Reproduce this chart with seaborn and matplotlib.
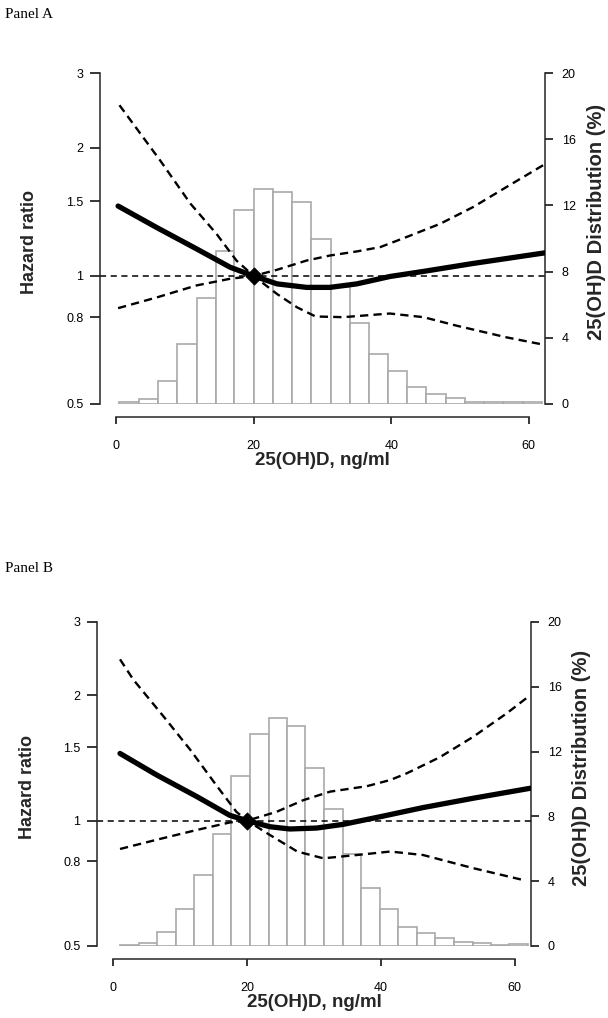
import numpy as np
import matplotlib
matplotlib.use("Agg")
import matplotlib.pyplot as plt
from matplotlib.ticker import FixedLocator, FixedFormatter, NullLocator
import seaborn as sns

sns.set_theme(style="ticks")
plt.rcParams["font.family"] = ["Liberation Sans", "DejaVu Sans"]

# --- shared axis settings ---
HR_TICKS = [0.5, 0.8, 1, 1.5, 2, 3]
HR_TICK_LABELS = ["0.5", "0.8", "1", "1.5", "2", "3"]
PCT_TICKS = [0, 4, 8, 12, 16, 20]
X_TICKS = [0, 20, 40, 60]
REF_X = 20.0
REF_HR = 1.0

# --- Panel A ---
BIN_EDGES_A = [0.5, 3.3, 6.1, 8.9, 11.7, 14.5, 17.2, 20.0, 22.8, 25.6, 28.4, 31.2,
               34.0, 36.8, 39.5, 42.3, 45.1, 47.9, 50.7, 53.5, 56.3, 59.1, 61.9]
PCT_A = [0.1, 0.32, 1.37, 3.65, 6.42, 9.25, 11.7, 12.97, 12.79, 12.2, 10.0,
         7.07, 4.9, 3.05, 2.0, 1.0, 0.62, 0.36, 0.12, 0.15, 0.1, 0.12]
HR_X_A = [0.3, 5.9, 11.7, 16.6, 20.0, 23.4, 27.7, 31.1, 35.0, 39.8, 44.7, 51.9, 62.3]
HR_A = [1.46, 1.30, 1.158, 1.048, 1.0, 0.958, 0.94, 0.94, 0.958, 0.997, 1.025, 1.07, 1.133]
RISE_X_A = [0.3, 5.9, 11.7, 16.6, 20.0, 23.4, 27.7, 31.1, 35.0, 38.4, 42.2, 47.1, 51.9, 56.8, 62.3]
RISE_A = [0.84, 0.89, 0.95, 0.985, 1.0, 1.034, 1.087, 1.117, 1.142, 1.169, 1.234, 1.326, 1.452, 1.62, 1.83]
FALL_X_A = [0.5, 6.4, 10.8, 14.6, 17.5, 20.0, 23.4, 26.3, 29.0, 33.0, 39.8, 44.7, 49.5, 56.8, 62.0]
FALL_A = [2.52, 1.87, 1.48, 1.256, 1.087, 1.0, 0.907, 0.844, 0.803, 0.80, 0.816, 0.80, 0.764, 0.717, 0.69]

# --- Panel B ---
BIN_EDGES_B = [1.0, 3.8, 6.5, 9.3, 12.1, 14.9, 17.6, 20.4, 23.2, 25.9, 28.7, 31.5,
               34.3, 37.0, 39.8, 42.6, 45.4, 48.1, 50.9, 53.7, 56.5, 59.2, 62.0]
PCT_B = [0.05, 0.2, 0.85, 2.3, 4.4, 6.9, 10.5, 13.1, 14.05, 13.56, 11.0,
         8.43, 5.66, 3.6, 2.3, 1.15, 0.78, 0.47, 0.23, 0.17, 0.05, 0.12]
HR_X_B = [1.0, 6.5, 12.5, 17.4, 20.0, 23.4, 26.4, 30.4, 34.4, 39.9, 46.3, 53.8, 62.3]
HR_B = [1.45, 1.287, 1.142, 1.03, 1.0, 0.967, 0.955, 0.96, 0.98, 1.022, 1.075, 1.132, 1.196]
RISE_X_B = [1.0, 6.5, 12.5, 17.4, 20.0, 24.4, 28.4, 32.4, 37.9, 41.4, 43.9, 48.8, 53.8, 58.8, 62.3]
RISE_B = [0.855, 0.90, 0.95, 0.99, 1.0, 1.05, 1.12, 1.174, 1.21, 1.252, 1.30, 1.42, 1.59, 1.81, 2.0]
FALL_X_B = [1.0, 3.0, 7.5, 11.5, 15.5, 18.4, 20.0, 23.4, 27.5, 31.4, 36.4, 41.4, 46.3, 53.8, 61.3]
FALL_B = [2.44, 2.18, 1.78, 1.48, 1.21, 1.05, 1.0, 0.924, 0.843, 0.812, 0.827, 0.843, 0.827, 0.769, 0.72]

W, H = 608, 1018


def draw_panel(fig, px_box, title, title_y, xlim, edges, pct,
               hr_x, hr, rise_x, rise, fall_x, fall):
    left, right, top, bottom = px_box
    ax = fig.add_axes([left / W, 1 - bottom / H, (right - left) / W, (bottom - top) / H])
    hx = ax.twinx()
    ax.set_zorder(hx.get_zorder() + 1)
    ax.patch.set_visible(False)

    # distribution histogram on the right axis
    centers = (np.array(edges[:-1]) + np.array(edges[1:])) / 2
    sns.histplot(x=centers, weights=pct, bins=edges, ax=hx, color="white",
                 edgecolor="#a9a9a9", linewidth=1.2, alpha=1)
    hx.set_ylim(0, 20)
    hx.set_yticks(PCT_TICKS)
    hx.set_yticklabels([str(t) for t in PCT_TICKS])
    hx.set_ylabel("25(OH)D Distribution (%)", fontsize=14.5, fontweight="bold")
    hx.yaxis.set_label_coords(1.095, 0.55)
    for s in ["left", "top", "bottom"]:
        hx.spines[s].set_visible(False)
    hx.spines["right"].set_linewidth(1.1)
    hx.tick_params(axis="y", length=6, width=1.1, pad=6, labelsize=9, colors="black")

    # hazard ratio curves
    ax.axhline(REF_HR, color="black", lw=1.1, ls=(0, (4, 3)))
    sns.lineplot(x=rise_x, y=rise, ax=ax, color="black", lw=1.7,
                 ls=(0, (3.5, 2.2)), estimator=None, sort=False)
    sns.lineplot(x=fall_x, y=fall, ax=ax, color="black", lw=1.7,
                 ls=(0, (3.5, 2.2)), estimator=None, sort=False)
    sns.lineplot(x=hr_x, y=hr, ax=ax, color="black", lw=3.8,
                 estimator=None, sort=False)
    sns.scatterplot(x=[REF_X], y=[REF_HR], ax=ax, marker="D", s=75,
                    color="black", edgecolor="black", zorder=5)

    ax.set_yscale("log")
    ax.set_ylim(0.5, 3)
    ax.yaxis.set_major_locator(FixedLocator(HR_TICKS))
    ax.yaxis.set_major_formatter(FixedFormatter(HR_TICK_LABELS))
    ax.yaxis.set_minor_locator(NullLocator())
    ax.set_xlim(*xlim)
    ax.set_xticks(X_TICKS)
    ax.set_xticklabels([str(t) for t in X_TICKS])

    ax.spines["top"].set_visible(False)
    ax.spines["right"].set_visible(False)
    ax.spines["bottom"].set_position(("outward", 9))
    ax.spines["bottom"].set_bounds(0, 60)
    for s in ["left", "bottom"]:
        ax.spines[s].set_linewidth(1.1)
    ax.tick_params(axis="x", length=5, width=1.1, pad=12, labelsize=9, colors="black")
    ax.tick_params(axis="y", length=7, width=1.1, pad=5, labelsize=9, colors="black")

    ax.set_xlabel("25(OH)D, ng/ml", fontsize=13.5, fontweight="bold", labelpad=0)
    ax.set_ylabel("Hazard ratio", fontsize=13, fontweight="bold")
    ax.yaxis.set_label_coords(-0.14, 0.49)

    fig.text(5 / W, 1 - title_y / H, title, family="Liberation Serif",
             fontsize=11, va="center", ha="left", color="black")
    return ax


fig = plt.figure(figsize=(W / 100, H / 100), dpi=100, facecolor="white")

draw_panel(fig, (100, 545, 73, 404), "Panel A", 14, (-2.33, 62.35),
           BIN_EDGES_A, PCT_A, HR_X_A, HR_A, RISE_X_A, RISE_A, FALL_X_A, FALL_A)
draw_panel(fig, (97, 531, 622, 946), "Panel B", 568, (-2.44, 62.44),
           BIN_EDGES_B, PCT_B, HR_X_B, HR_B, RISE_X_B, RISE_B, FALL_X_B, FALL_B)

fig.savefig("out.png", dpi=100, facecolor="white")
